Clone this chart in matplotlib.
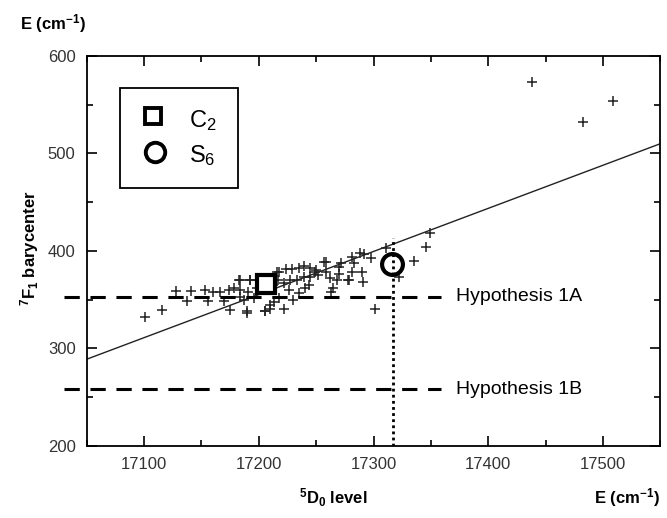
import matplotlib.pyplot as plt
from matplotlib.ticker import MultipleLocator

plt.rcParams['font.family'] = ['Liberation Sans', 'DejaVu Sans']
plt.rcParams['mathtext.fontset'] = 'custom'
plt.rcParams['mathtext.rm'] = 'Liberation Sans'
plt.rcParams['mathtext.bf'] = 'Liberation Sans:bold'
plt.rcParams['mathtext.it'] = 'Liberation Sans:italic'

# data
px = [17101, 17116, 17128, 17141, 17137, 17153, 17156, 17160, 17166, 17170,
      17174, 17178, 17183, 17184, 17187, 17175, 17190, 17192, 17205, 17210,
      17191, 17198, 17184, 17184, 17192, 17190, 17205, 17210, 17213, 17218,
      17222, 17230, 17235, 17217, 17216, 17218, 17222, 17224, 17227, 17229,
      17233, 17235, 17239, 17239, 17245, 17245, 17249, 17252, 17257, 17259,
      17259, 17263, 17265, 17268, 17270, 17272, 17278, 17279, 17281, 17281,
      17283, 17288, 17290, 17291, 17292, 17298, 17301, 17311, 17322, 17335,
      17346, 17349, 17244, 17250, 17262, 17270, 17226, 17240, 17212, 17196,
      17438, 17483, 17509]
py = [332, 339, 359, 359, 349, 360, 349, 358, 358, 349,
      360, 362, 370, 360, 350, 339, 338, 370, 338, 345,
      358, 362, 353, 370, 370, 336, 338, 341, 348, 352,
      341, 350, 357, 370, 378, 378, 367, 381, 370, 381,
      370, 383, 385, 373, 383, 373, 378, 375, 389, 378,
      389, 358, 362, 370, 384, 388, 370, 370, 394, 378,
      388, 398, 378, 368, 397, 393, 340, 403, 373, 390,
      404, 418, 365, 380, 372, 376, 360, 362, 365, 352,
      573, 532, 554]

fit_x = [17050, 17550]
fit_y = [289, 510]

hyp_labels = ['Hypothesis 1A', 'Hypothesis 1B']
hyp_values = [353, 258]

c2_site = (17206, 366)
s6_site = (17316, 387)
d0_level = 17317

fig = plt.figure(figsize=(6.67, 5.18), dpi=100)
ax = fig.add_axes([0.130, 0.139, 0.860, 0.753])

ax.plot(fit_x, fit_y, color='#222222', lw=1.0, zorder=2)
ax.plot(px, py, ls='none', marker='+', ms=7, mew=1.1, color='#222222',
        zorder=3)

for lab, val in zip(hyp_labels, hyp_values):
    ax.plot([17030, 17359], [val, val], ls=(0, (5, 3.5)), lw=2.2,
            color='black', clip_on=False, zorder=4)
    ax.text(17372, val, lab, fontsize=14, va='center', ha='left')

ax.plot([d0_level, d0_level], [200, 413], ls=(0, (1, 1.2)), lw=2.0,
        color='black', zorder=4)

ax.plot(*c2_site, marker='s', ms=13, mew=3, mfc='white', mec='black',
        zorder=6)
ax.plot(*s6_site, marker='o', ms=15, mew=3, mfc='none', mec='black',
        zorder=6)

ax.set_xlim(17050, 17550)
ax.set_ylim(200, 600)
ax.xaxis.set_major_locator(MultipleLocator(100))
ax.xaxis.set_minor_locator(MultipleLocator(50))
ax.yaxis.set_major_locator(MultipleLocator(100))
ax.yaxis.set_minor_locator(MultipleLocator(50))
ax.tick_params(which='both', direction='in', top=True, right=True,
               labelsize=12, labelcolor='#333333', width=1.2)
ax.tick_params(which='major', length=7, pad=8)
ax.tick_params(which='minor', length=4)
for sp in ax.spines.values():
    sp.set_linewidth(1.3)

# legend box drawn by hand in axes coordinates
leg_box = plt.Rectangle((0.058, 0.662), 0.206, 0.256, transform=ax.transAxes,
                        fill=False, lw=1.3, zorder=7)
ax.add_patch(leg_box)
ax.plot(0.115, 0.845, marker='s', ms=12, mew=2.8, mfc='white', mec='black',
        transform=ax.transAxes, zorder=8)
ax.plot(0.119, 0.755, marker='o', ms=14, mew=2.8, mfc='none', mec='black',
        transform=ax.transAxes, zorder=8)
ax.text(0.178, 0.835, r'C$_2$', fontsize=17, va='center',
        transform=ax.transAxes)
ax.text(0.178, 0.745, r'S$_6$', fontsize=17, va='center',
        transform=ax.transAxes)

fig.text(0.03, 0.955, r'E (cm$^{\mathbf{-1}}$)', fontsize=12,
         fontweight='bold', va='center')
fig.text(0.99, 0.04, r'E (cm$^{\mathbf{-1}}$)', fontsize=12,
         fontweight='bold', va='center', ha='right')
fig.text(0.50, 0.04, r'$^{\mathbf{5}}$D$_{\mathbf{0}}$ level', fontsize=12,
         fontweight='bold', va='center', ha='center')
fig.text(0.045, 0.52, r'$^{\mathbf{7}}$F$_{\mathbf{1}}$ barycenter',
         fontsize=12, fontweight='bold', va='center', ha='center',
         rotation=90)

fig.savefig('out.png', dpi=100)
